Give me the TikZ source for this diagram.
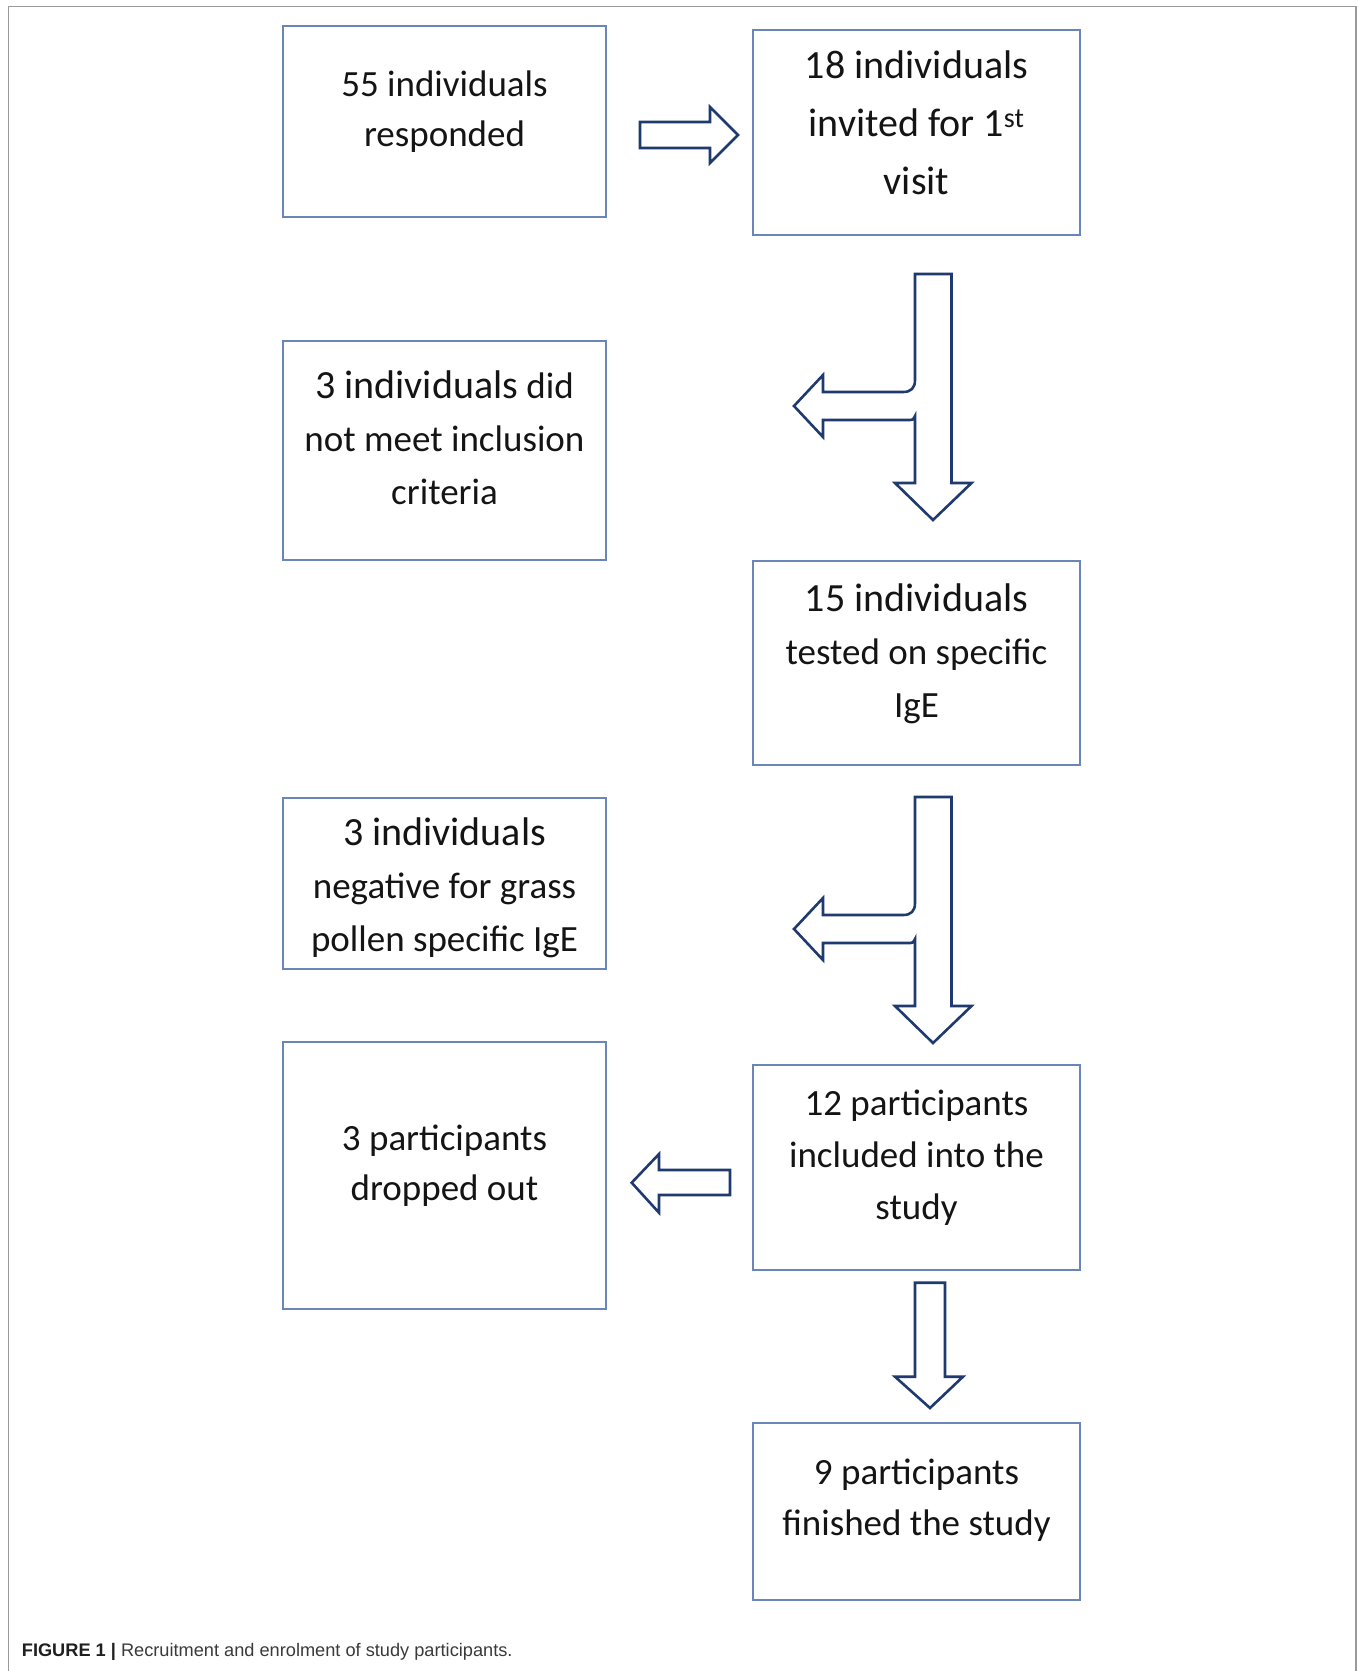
\documentclass[tikz,border=0pt]{standalone}
\usepackage{fontspec}
\setmainfont{Carlito}
\newfontfamily\capfont{Liberation Sans}
\usetikzlibrary{positioning}

\definecolor{boxblue}{HTML}{6A86B8}
\definecolor{arrowblue}{HTML}{1F3A6E}
\definecolor{framegray}{HTML}{9A9A9A}
\definecolor{capgray}{HTML}{3A3A3A}

\tikzstyle{flow_style}=[x=1pt,y=-1pt,
  box/.style={rectangle,draw=boxblue,line width=2pt,inner sep=0pt,outer sep=0pt},
  leftbox/.style={box,minimum width=323pt},
  rightbox/.style={box,minimum width=327pt},
  txt/.style={anchor=base,align=center,inner sep=0pt,text=black!92,font=\fontsize{37}{50}\selectfont},
  bigtxt/.style={txt,font=\fontsize{40}{58}\selectfont},
  blockarrow/.style={draw=arrowblue,fill=white,line width=2.6pt,line join=miter},
  figframe/.style={draw=framegray,line width=1.5pt},
  caption/.style={anchor=base west,inner sep=0pt,font=\capfont\fontsize{18.2}{21}\selectfont},]

\begin{document}
\begin{tikzpicture}[flow_style]

    \useasboundingbox (0,0) rectangle (1360,1671);
    \draw[figframe] (8.5,1671) -- (8.5,6.4) -- (1356,6.4) -- (1356,1671);

    % Draw the boxes on the left
    \node[leftbox, minimum height=191pt] (responded) at (444.5,121.5) {};
    \node[leftbox, minimum height=219.5pt] (excluded) at (444.5,450.25) {};
    \node[leftbox, minimum height=171pt] (negative) at (444.5,883.5) {};
    \node[leftbox, minimum height=266.4pt] (dropped) at (444.5,1175.6) {};

    % Draw the boxes on the right
    \node[rightbox, minimum height=205pt] (invited) at (916.5,132.5) {};
    \node[rightbox, minimum height=204.5pt] (tested) at (916.5,662.75) {};
    \node[rightbox, minimum height=205.5pt] (included) at (916.5,1167.25) {};
    \node[rightbox, minimum height=177.5pt] (finished) at (916.5,1511.25) {};

    % Texts of the boxes (placed at the baseline of the last line)
    \node[txt] (responded-t) at (444.5,146.7) {55 individuals\\responded};
    \node[bigtxt] (invited-t) at (916.5,194.5) {18 individuals\\invited for 1\textsuperscript{st}\\visit};
    \node[txt, font=\fontsize{37}{53}\selectfont] (excluded-t) at (444.5,504)
        {{\fontsize{40}{53}\selectfont 3 individuals} did\\not meet inclusion\\criteria};
    \node[txt, font=\fontsize{37}{53}\selectfont] (tested-t) at (916.5,717)
        {{\fontsize{40}{53}\selectfont 15 individuals}\\tested on specific\\IgE};
    \node[txt, font=\fontsize{37}{53}\selectfont] (negative-t) at (444.5,951)
        {{\fontsize{40}{53}\selectfont 3 individuals}\\negative for grass\\pollen specific IgE};
    \node[txt, font=\fontsize{37}{50}\selectfont] (dropped-t) at (444.5,1200) {3 participants\\dropped out};
    \node[txt, font=\fontsize{37}{51.7}\selectfont] (included-t) at (916.5,1219) {12 participants\\included into the\\study};
    \node[txt, font=\fontsize{37}{51}\selectfont] (finished-t) at (916.5,1535.5) {9 participants\\finished the study};

    % Block arrows
    \draw[blockarrow] (640,122) -- (710,122) -- (710,107) -- (738,135) -- (710,163) -- (710,148) -- (640,148) -- cycle;

    % down arrows with a branch to the left
    \foreach \dy in {0,523}
        \draw[blockarrow] (915,274+\dy) -- (951.5,274+\dy) -- (951.5,483+\dy) -- (971.5,483+\dy)
            -- (933,520+\dy) -- (895,483+\dy) -- (915,483+\dy) -- (915,416+\dy)
            .. controls (913,420+\dy) .. (907,420+\dy) -- (823,420+\dy) -- (823,437+\dy)
            -- (794,406+\dy) -- (823,375+\dy) -- (823,392+\dy) -- (903,392+\dy)
            .. controls (911,392+\dy) and (915,388+\dy) .. (915,380+\dy) -- cycle;

    \draw[blockarrow] (730,1170) -- (659,1170) -- (659,1154) -- (631.7,1182.7) -- (659,1212.7) -- (659,1195) -- (730,1195) -- cycle;
    \draw[blockarrow] (915,1282.7) -- (945,1282.7) -- (945,1376.7) -- (963,1376.7) -- (930,1408) -- (895,1376.7) -- (915,1376.7) -- cycle;

    % Caption
    \node[caption] (cap) at (21.7,1656.7)
        {\textcolor{black!88}{\textbf{FIGURE 1 |}} \textcolor{capgray}{Recruitment and enrolment of study participants.}};

\end{tikzpicture}
\end{document}
